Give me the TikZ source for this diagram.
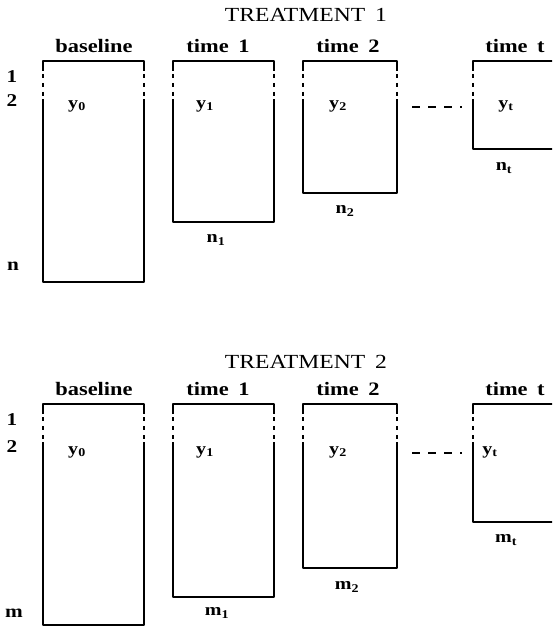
\documentclass[tikz,border=0pt]{standalone}
\usepackage{fontspec}
\setmainfont[FakeStretch=1.18]{Liberation Serif}
\usetikzlibrary{calc}
\tikzset{
  x=1pt, y=-1pt,
  boxline/.style={line width=1.4pt, line join=round},
  sideline/.style={line width=1.4pt, dash pattern=on 4pt off 5pt},
  gapline/.style={line width=1.3pt, dash pattern=on 8pt off 8pt},
  title/.style={font=\fontsize{20}{22}\selectfont, inner sep=0pt},
  collbl/.style={font=\fontsize{19}{21}\selectfont\bfseries, inner sep=0pt},
  rowlbl/.style={font=\fontsize{18}{20}\selectfont\bfseries, inner sep=0pt},
  varlbl/.style={font=\fontsize{17}{19}\selectfont\bfseries, inner sep=0pt},
}
% name, x1, x2, top, bottom
\newcommand\obsbox[5]{%
  \coordinate (#1-nw) at (#2,#4);
  \coordinate (#1-se) at (#3,#5);
  \draw[boxline] (#2,#4+10) -- (#2,#4) -- (#3,#4) -- (#3,#4+10);
  \draw[boxline] (#2,#4+38) -- (#2,#5) -- (#3,#5) -- (#3,#4+38);
  \draw[sideline] (#2,#4+13) -- (#2,#4+36);
  \draw[sideline] (#3,#4+13) -- (#3,#4+36);
}
\begin{document}
\begin{tikzpicture}
\useasboundingbox (0,0) rectangle (552,628);
\clip (0,0) rectangle (552,628);

% ---------------- TREATMENT 1 ----------------
\node[title] (t1) at (306,15) {TREATMENT\enspace 1};
\node[collbl] (t1c0) at (94,46) {baseline};
\node[collbl] (t1c1) at (218,46) {time\enspace 1};
\node[collbl] (t1c2) at (348,46) {time\enspace 2};
\node[collbl] (t1ct) at (515,46) {time\enspace t};
\node[rowlbl] (t1r1) at (12,77) {1};
\node[rowlbl] (t1r2) at (12,101) {2};
\node[rowlbl] (t1rn) at (13,266) {n};

\obsbox{a0}{43}{144}{61}{282}
\obsbox{a1}{173}{274}{61}{222}
\obsbox{a2}{303}{397}{61}{193}
\obsbox{at}{473}{590}{61}{149}

\node[varlbl] (a0y) at (77,106) {y\textsubscript{0}};
\node[varlbl] (a1y) at (205,106) {y\textsubscript{1}};
\node[varlbl] (a2y) at (338,106) {y\textsubscript{2}};
\node[varlbl] (aty) at (506,106) {y\textsubscript{t}};
\node[varlbl] (a1n) at (216,240) {n\textsubscript{1}};
\node[varlbl] (a2n) at (345,211) {n\textsubscript{2}};
\node[varlbl] (atn) at (504,168) {n\textsubscript{t}};
\coordinate (ag1) at (412,107);
\coordinate (ag2) at (462,107);
\draw[gapline] (ag1) -- (ag2);

% ---------------- TREATMENT 2 ----------------
\node[title] (t2) at (306,362) {TREATMENT\enspace 2};
\node[collbl] (t2c0) at (94,389) {baseline};
\node[collbl] (t2c1) at (218,389) {time\enspace 1};
\node[collbl] (t2c2) at (348,389) {time\enspace 2};
\node[collbl] (t2ct) at (515,389) {time\enspace t};
\node[rowlbl] (t2r1) at (12,420) {1};
\node[rowlbl] (t2r2) at (12,447) {2};
\node[rowlbl] (t2rm) at (14,613) {m};

\obsbox{b0}{43}{144}{404}{625}
\obsbox{b1}{173}{274}{404}{597}
\obsbox{b2}{303}{397}{404}{568}
\obsbox{bt}{473}{590}{404}{522}

\node[varlbl] (b0y) at (77,452) {y\textsubscript{0}};
\node[varlbl] (b1y) at (205,452) {y\textsubscript{1}};
\node[varlbl] (b2y) at (338,452) {y\textsubscript{2}};
\node[varlbl] (bty) at (490,452) {y\textsubscript{t}};
\node[varlbl] (b1m) at (217,613) {m\textsubscript{1}};
\node[varlbl] (b2m) at (347,587) {m\textsubscript{2}};
\node[varlbl] (btm) at (506,540) {m\textsubscript{t}};
\coordinate (bg1) at (412,453);
\coordinate (bg2) at (462,453);
\draw[gapline] (bg1) -- (bg2);
\end{tikzpicture}
\end{document}
